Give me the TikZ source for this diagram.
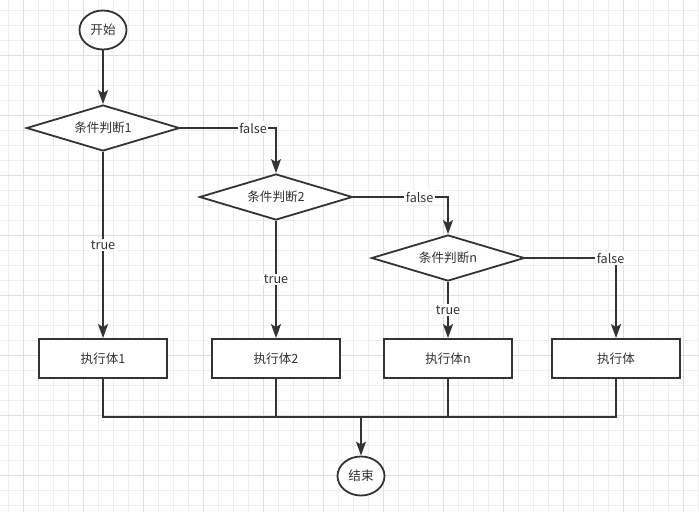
\documentclass[tikz,border=0pt]{standalone}
\usepackage{fontspec}
\setmainfont{Noto Sans CJK SC}
\usetikzlibrary{arrows.meta,positioning,shapes.geometric}
\definecolor{ink}{HTML}{333333}
\definecolor{gridminor}{HTML}{EEEEEE}
\definecolor{gridmajor}{HTML}{DEDEDE}

\begin{document}
\begin{tikzpicture}[x=1pt,y=-1pt,
  every node/.style={font=\fontsize{12.6pt}{14pt}\selectfont,text=ink},
  terminal/.style={ellipse,draw=ink,line width=1.8pt,fill=white,minimum width=47pt,minimum height=39pt,inner sep=0pt},
  decision/.style={diamond,aspect=3.3,draw=ink,line width=1.8pt,fill=white,minimum width=153pt,minimum height=46pt,inner sep=0pt},
  process/.style={rectangle,draw=ink,line width=1.8pt,fill=white,minimum width=128pt,minimum height=39pt,inner sep=0pt},
  flow/.style={ink,line width=1.8pt,-{Stealth[length=14pt,width=10pt,inset=3pt]}},
  wire/.style={ink,line width=1.8pt,line cap=rect},
  lbl/.style={fill=white,inner sep=1.5pt}]

  % Background grid
  \useasboundingbox (0,0) rectangle (699,512);
  \fill[white] (0,0) rectangle (699,512);
  \foreach \x in {8,23,...,698} \draw[gridminor,line width=1pt] (\x,0) -- (\x,512);
  \foreach \y in {10,25,...,505} \draw[gridminor,line width=1pt] (0,\y) -- (699,\y);
  \foreach \x in {23,83,...,683} \draw[gridmajor,line width=1pt] (\x,0) -- (\x,512);
  \foreach \y in {55,115,...,475} \draw[gridmajor,line width=1pt] (0,\y) -- (699,\y);

  % Start and decisions
  \node[terminal] (start) at (103,30) {开始};
  \node[decision] (cond1) at (103,128) {条件判断1};
  \node[decision] (cond2) at (276,197) {条件判断2};
  \node[decision] (condn) at (448,258) {条件判断n};

  % Bodies
  \node[process] (body1) at (103,358.5) {执行体1};
  \node[process] (body2) at (276,358.5) {执行体2};
  \node[process] (bodyn) at (448,358.5) {执行体n};
  \node[process] (body) at (616,358.5) {执行体};

  % End
  \coordinate (merge) at (361,417);
  \node[terminal] (stop) at (361,476) {结束};

  % Decision arrows
  \draw[flow] (start) -- (cond1);
  \draw[flow] (cond1.east) -| node[lbl,pos=0.38] {false} (cond2.north);
  \draw[flow] (cond2.east) -| node[lbl,pos=0.35] {false} (condn.north);
  \draw[flow] (condn.east) -| node[lbl,pos=0.47] {false} (body.north);
  \draw[flow] (cond1) -- node[lbl] {true} (body1);
  \draw[flow] (cond2) -- node[lbl] {true} (body2);
  \draw[flow] (condn) -- node[lbl] {true} (bodyn);

  % Merge into end
  \foreach \b in {body1,body2,bodyn,body}
    \draw[wire] (\b.south) -- (\b.south |- merge);
  \draw[wire] (body1.south |- merge) -- (body.south |- merge);
  \draw[flow] (merge) -- (stop);
\end{tikzpicture}
\end{document}
